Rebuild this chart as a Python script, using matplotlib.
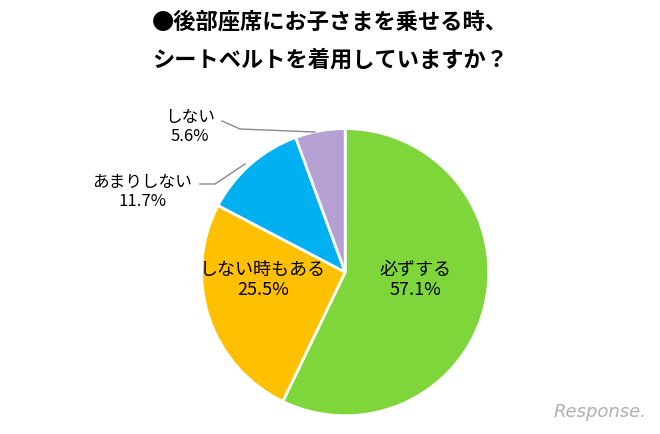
import matplotlib
matplotlib.use("Agg")
import matplotlib.pyplot as plt

labels = ["必ずする", "しない時もある", "あまりしない", "しない"]
values = [57.1, 25.5, 11.7, 5.6]
colors = ["#7ed63a", "#ffc000", "#00b0f0", "#b4a0d2"]

plt.rcParams["font.family"] = "Noto Sans CJK JP"
fig = plt.figure(figsize=(6.6, 4.35), dpi=100)
ax = fig.add_axes([0.523 - 0.2197, 0.372 - 0.3333, 0.4394, 0.6667])
wedges, _ = ax.pie(values, colors=colors, startangle=90, counterclock=False,
                   wedgeprops=dict(edgecolor="white", linewidth=2))
ax.set_xlim(-1.01, 1.01)
ax.set_ylim(-1.01, 1.01)
ax.set_aspect("equal")

fig.text(415 / 660, 1 - 280 / 435, f"{labels[0]}\n{values[0]}%", ha="center", va="center", fontsize=13, linespacing=1.2)
fig.text(263 / 660, 1 - 280 / 435, f"{labels[1]}\n{values[1]}%", ha="center", va="center", fontsize=13, linespacing=1.2)
fig.text(142 / 660, 1 - 192 / 435, f"{labels[2]}\n{values[2]}%", ha="center", va="center", fontsize=12, linespacing=1.2)
fig.text(190 / 660, 1 - 127 / 435, f"{labels[3]}\n{values[3]}%", ha="center", va="center", fontsize=12, linespacing=1.2)
fig.add_artist(plt.Line2D([200 / 660, 215 / 660, 245 / 660], [1 - 185 / 435, 1 - 185 / 435, 1 - 165 / 435], color="#888888", lw=1))
fig.add_artist(plt.Line2D([222 / 660, 240 / 660, 315 / 660], [1 - 122 / 435, 1 - 130 / 435, 1 - 133 / 435], color="#888888", lw=1))

fig.text(330 / 660, 1 - 22 / 435, "●後部座席にお子さまを乗せる時、", ha="center", va="center", fontsize=16, fontweight="bold")
fig.text(330 / 660, 1 - 60 / 435, "シートベルトを着用していますか？", ha="center", va="center", fontsize=16, fontweight="bold")
fig.text(600 / 660, 1 - 412 / 435, "Response.", ha="center", va="center", fontsize=13, color="#b0b0b0",
         style="italic", family="DejaVu Sans")
fig.savefig("out.png", dpi=100)
